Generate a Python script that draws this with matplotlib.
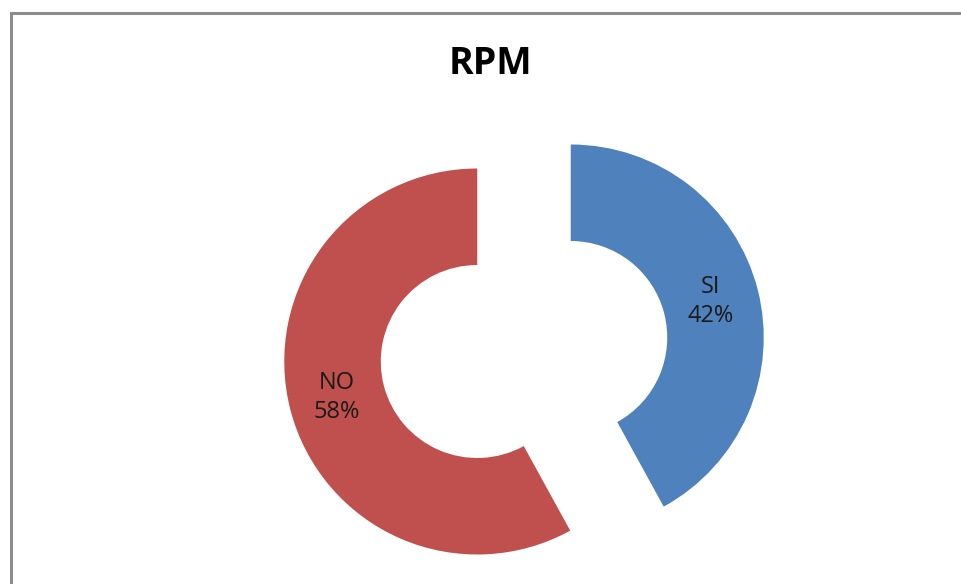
import matplotlib
matplotlib.use("Agg")
import matplotlib.pyplot as plt
from matplotlib.patches import Rectangle

# datos del gráfico
etiquetas = ["SI", "NO"]
valores = [42, 58]
colores = ["#4F81BD", "#C0504D"]
titulo = "RPM"

plt.rcParams['font.family'] = ['Open Sans', 'DejaVu Sans']

fig = plt.figure(figsize=(9.61, 5.84), dpi=100)
ax = fig.add_axes([0, 0, 1, 1])

# 1 unidad = radio del anillo (193 px), centro en (524, 349.5) px
R = 193.0
cx, cy = 524.0, 349.5
wedges, texts, autotexts = ax.pie(
    valores, colors=colores, startangle=90, counterclock=False,
    explode=[0.25, 0.25], radius=1.0, pctdistance=0.75,
    autopct='%1.0f%%', wedgeprops=dict(width=0.5, linewidth=0),
    textprops=dict(fontsize=17, color='#1a1a1a'))
for t, lab in zip(autotexts, etiquetas):
    t.set_text(lab + "\n" + t.get_text())
    t.set_linespacing(1.25)

ax.set_xlim(-cx / R, (961 - cx) / R)
ax.set_ylim(-(584 - cy) / R, cy / R)
ax.set_aspect('auto')
ax.axis('off')

fig.text(490.5 / 961, 1 - 64.5 / 584, titulo, ha='center', va='center',
         fontsize=27, fontweight='bold', color='black')

# borde del área del gráfico
borde = Rectangle((10.5 / 961, -0.1), 1.2, 1 - 13.5 / 584 + 0.1,
                  transform=fig.transFigure, fill=False,
                  edgecolor='#8c8c8c', linewidth=2.2, clip_on=False)
fig.patches.append(borde)

fig.savefig("out.png", dpi=100)
